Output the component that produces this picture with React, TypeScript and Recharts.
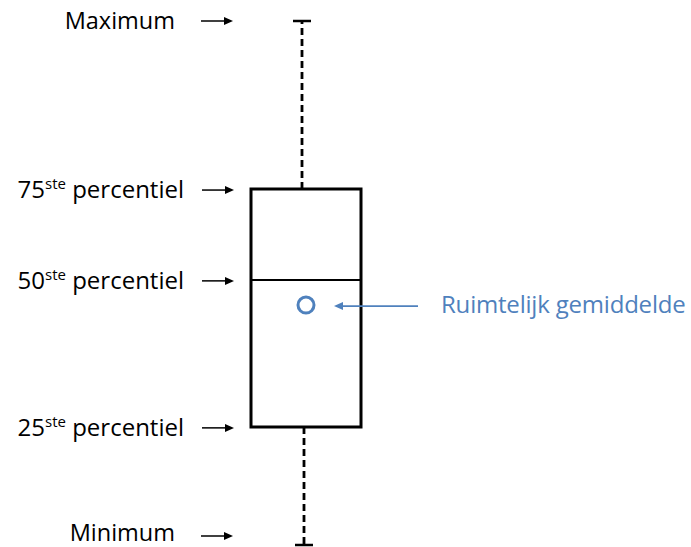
import { ComposedChart, Bar, Scatter, XAxis, YAxis } from 'recharts';

const categories = ['box'];
const statLabels = ['Minimum', '25ste percentiel', '50ste percentiel', '75ste percentiel', 'Maximum'];
const statValues = [0, 22.5, 50.5, 67.8, 100];
const meanValues = [45.7];
const meanLabel = 'Ruimtelijk gemiddelde';

const BLUE = '#4F81BD';
const FONT = '"Open Sans", sans-serif';

const data = categories.map((name, i) => ({
  name,
  base: statValues[0],
  lowWhisker: statValues[1] - statValues[0],
  lowBox: statValues[2] - statValues[1],
  highBox: statValues[3] - statValues[2],
  highWhisker: statValues[4] - statValues[3],
  mean: meanValues[i],
}));

function StatTick(props: any) {
  const { x, y, payload } = props;
  const i = statValues.indexOf(payload.value);
  const label = statLabels[i] ?? '';
  // bottom label sits higher so it stays on the page
  const ty = i === 0 ? y - 9 : y + 1;
  const m = label.match(/^(\d+)(ste)(.*)$/);
  const big = i === 0 || i === 4;
  const arrowEnd = big ? x - 18 : x - 17;
  const arrowStart = arrowEnd - 32;
  const textEnd = arrowStart - (big ? 26 : 18);
  return (
    <g>
      <text x={textEnd} y={ty + (i === 0 ? 5 : 8)} textAnchor="end" fontSize={big ? 23.5 : 24} fill="#000" fontFamily={FONT}>
        {m ? (
          <>
            <tspan>{m[1]}</tspan>
            <tspan fontSize={15} dy={-9}>{m[2]}</tspan>
            <tspan dy={9}>{m[3]}</tspan>
          </>
        ) : (
          label
        )}
      </text>
      <line x1={arrowStart} y1={ty} x2={arrowEnd - 6} y2={ty} stroke="#000" strokeWidth={1.5} />
      <polygon
        points={`${arrowEnd},${ty} ${arrowEnd - 9},${ty - 4} ${arrowEnd - 9},${ty + 4}`}
        fill="#000"
      />
    </g>
  );
}

const dash = '7 4';

function UpperWhisker(props: any) {
  const { x, y, width, height } = props;
  const cx = x + width / 2 - 4;
  return (
    <g>
      <line x1={cx} y1={y + height} x2={cx} y2={y} stroke="#000" strokeWidth={2.8} strokeDasharray={dash} />
      <line x1={cx - 9} y1={y + 1} x2={cx + 9} y2={y + 1} stroke="#000" strokeWidth={2.5} />
    </g>
  );
}

function LowerWhisker(props: any) {
  const { x, y, width, height } = props;
  const cx = x + width / 2 - 2;
  return (
    <g>
      <line x1={cx} y1={y} x2={cx} y2={y + height} stroke="#000" strokeWidth={2.8} strokeDasharray={dash} />
      <line x1={cx - 9} y1={y + height} x2={cx + 9} y2={y + height} stroke="#000" strokeWidth={2.5} />
    </g>
  );
}

function LowBox(props: any) {
  const { x, y, width, height } = props;
  return (
    <path
      d={`M${x},${y} L${x},${y + height} L${x + width},${y + height} L${x + width},${y}`}
      fill="none"
      stroke="#000"
      strokeWidth={3}
    />
  );
}

function HighBox(props: any) {
  const { x, y, width, height } = props;
  return (
    <g>
      <path
        d={`M${x},${y + height} L${x},${y} L${x + width},${y} L${x + width},${y + height}`}
        fill="none"
        stroke="#000"
        strokeWidth={3}
      />
      <line x1={x} y1={y + height} x2={x + width} y2={y + height} stroke="#000" strokeWidth={2} />
    </g>
  );
}

function MeanDot(props: any) {
  const { cx, cy } = props;
  const ay = cy + 1;
  const tip = cx + 28;
  return (
    <g>
      <circle cx={cx} cy={cy} r={8} fill="none" stroke={BLUE} strokeWidth={3} />
      <line x1={tip + 6} y1={ay} x2={cx + 112} y2={ay} stroke={BLUE} strokeWidth={1.8} />
      <polygon points={`${tip},${ay} ${tip + 9},${ay - 4} ${tip + 9},${ay + 4}`} fill={BLUE} />
      <text x={cx + 135} y={cy + 8} fontSize={24} fill={BLUE} fontFamily={FONT} letterSpacing={-0.2}>
        {meanLabel}
      </text>
    </g>
  );
}

export default function App() {
  return (
    <div style={{ position: 'absolute', left: 0, top: 0, background: '#fff' }}>
      <ComposedChart
        width={691}
        height={547}
        data={data}
        margin={{ top: 20, right: 330, bottom: 2, left: 0 }}
        barCategoryGap={0}
      >
        <XAxis dataKey="name" hide height={0} />
        <YAxis
          type="number"
          domain={[0, 100]}
          width={251}
          ticks={statValues}
          interval={0}
          axisLine={false}
          tickLine={false}
          tickSize={0}
          tickMargin={0}
          tick={<StatTick />}
        />
        <Bar dataKey="base" stackId="b" fill="none" isAnimationActive={false} />
        <Bar dataKey="lowWhisker" stackId="b" shape={<LowerWhisker />} isAnimationActive={false} />
        <Bar dataKey="lowBox" stackId="b" shape={<LowBox />} isAnimationActive={false} />
        <Bar dataKey="highBox" stackId="b" shape={<HighBox />} isAnimationActive={false} />
        <Bar dataKey="highWhisker" stackId="b" shape={<UpperWhisker />} isAnimationActive={false} />
        <Scatter dataKey="mean" shape={<MeanDot />} isAnimationActive={false} />
      </ComposedChart>
    </div>
  );
}
